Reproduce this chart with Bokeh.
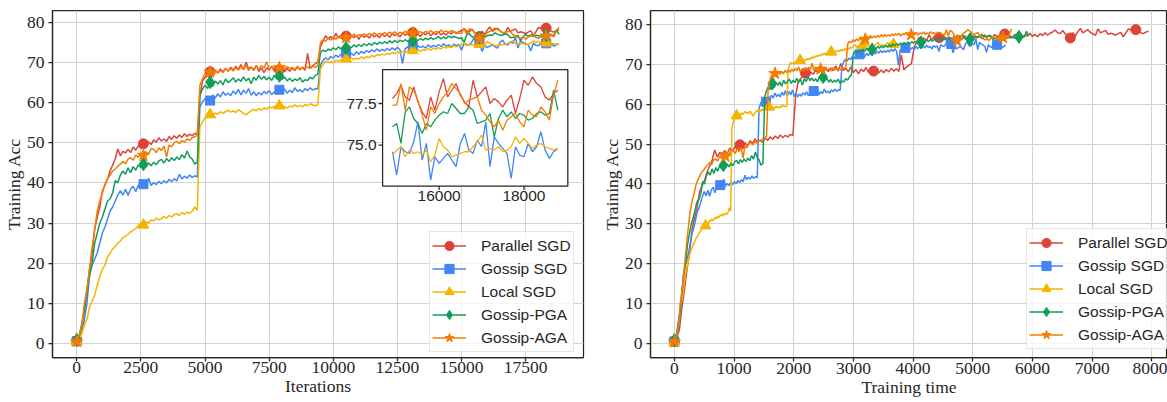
from bokeh.plotting import figure
from bokeh.layouts import row
from bokeh.models import Range1d, FixedTicker, Legend, LegendItem
from bokeh.core.properties import value
from bokeh.embed import file_html
from bokeh.resources import INLINE
import math

# ---------------- data ----------------
ITERATIONS = list(range(0, 18801, 100))

PARALLEL_SGD = [
    0.5, 1.5, 3.5, 9.0, 13.5, 18.5, 22.5, 28.5, 31.5, 34.0,
    38.0, 39.5, 41.0, 43.0, 44.5, 46.0, 48.5, 46.8, 47.9, 47.5,
    48.4, 47.6, 49.0, 48.2, 49.3, 48.7, 49.8, 49.2, 50.3, 49.6,
    50.8, 50.2, 51.3, 50.5, 51.0, 50.4, 51.6, 50.9, 51.8, 51.2,
    52.0, 51.4, 52.3, 51.6, 52.2, 51.8, 52.4, 52.2, 61.5, 65.5,
    66.4, 67.0, 67.8, 67.2, 68.1, 67.5, 68.5, 67.8, 68.6, 68.0,
    68.9, 68.2, 69.1, 68.4, 69.6, 68.3, 70.2, 68.5, 69.0, 68.1,
    69.4, 67.9, 68.7, 67.6, 68.8, 68.2, 69.2, 68.0, 69.0, 68.3,
    68.9, 67.8, 68.6, 67.9, 68.7, 68.1, 69.0, 68.3, 68.9, 68.2,
    72.4, 68.6, 69.3, 69.8, 70.2, 74.0, 75.5, 76.8, 76.0, 76.6,
    75.9, 77.4, 76.2, 76.9, 75.8, 76.7, 76.1, 77.0, 76.3, 76.8,
    75.9, 77.1, 76.4, 76.9, 76.2, 77.2, 76.5, 77.0, 76.3, 77.3,
    76.6, 77.1, 76.4, 77.4, 76.8, 77.2, 76.5, 77.5, 76.9, 77.3,
    76.7, 77.6, 76.9, 77.2, 76.6, 77.5, 77.0, 77.7, 76.8, 77.4,
    77.1, 77.8, 77.0, 77.5, 76.9, 77.7, 77.2, 77.9, 77.3, 77.8,
    78.1, 78.6, 77.9, 77.7, 78.5, 77.6, 77.0, 76.6, 77.9, 77.1,
    78.2, 79.0, 77.9, 78.3, 78.7, 78.0, 77.6, 77.3, 78.9, 77.9,
    78.2, 78.5, 77.5, 77.8, 77.6, 77.3, 77.7, 78.0, 76.9, 77.8,
    78.9, 78.6, 79.1, 78.7, 78.5, 77.9, 77.7, 78.1, 78.3,
]

GOSSIP_SGD = [
    0.5, 1.0, 3.0, 6.0, 10.0, 17.0, 19.5, 21.0, 22.5, 25.0,
    27.5, 29.0, 31.0, 33.0, 34.0, 35.5, 37.0, 38.1, 37.0, 38.4,
    36.9, 38.5, 39.2, 37.8, 39.5, 38.9, 39.7, 39.0, 41.2, 39.4,
    40.1, 39.6, 40.4, 39.8, 40.6, 40.0, 40.9, 40.3, 41.1, 40.5,
    42.2, 41.0, 41.7, 41.2, 42.0, 41.4, 41.8, 41.5, 59.0, 60.3,
    61.0, 61.5, 60.6, 62.0, 61.2, 62.3, 61.5, 62.8, 61.9, 62.5,
    61.8, 63.0, 62.2, 63.4, 62.0, 63.2, 62.4, 63.6, 61.9, 62.8,
    61.8, 62.6, 62.0, 62.9, 62.3, 63.1, 62.1, 62.7, 62.2, 63.3,
    62.5, 63.5, 62.4, 63.2, 62.6, 63.8, 62.9, 63.3, 62.7, 63.6,
    63.1, 63.8, 63.2, 63.6, 63.5, 69.5, 70.6, 71.3, 70.8, 71.6,
    71.2, 72.0, 71.4, 72.2, 71.6, 72.5, 71.8, 72.4, 71.9, 72.8,
    72.2, 72.9, 72.4, 73.1, 72.6, 73.3, 72.8, 73.5, 72.9, 73.4,
    73.0, 73.6, 73.1, 73.8, 73.2, 73.9, 73.3, 69.8, 73.5, 74.0,
    73.4, 74.1, 73.6, 74.3, 73.8, 74.2, 73.7, 74.5, 73.9, 74.4,
    74.0, 74.6, 74.1, 74.8, 74.2, 74.5, 73.9, 74.7, 74.3, 74.6,
    73.2, 74.9, 74.6, 74.5, 75.2, 76.4, 74.1, 75.1, 72.9, 74.3,
    73.9, 74.2, 74.5, 74.1, 73.7, 75.1, 75.7, 74.7, 74.5, 75.3,
    74.9, 76.4, 73.7, 75.5, 75.1, 74.8, 74.5, 73.0, 74.9, 74.4,
    74.3, 75.1, 74.6, 74.9, 75.8, 74.7, 74.2, 74.6, 74.8,
]

LOCAL_SGD = [
    0.3, 1.0, 2.5, 4.5, 6.0, 9.0, 10.5, 12.0, 14.5, 16.6,
    18.5, 19.5, 21.5, 22.5, 23.5, 24.1, 25.0, 25.5, 26.3, 26.7,
    27.2, 27.8, 28.2, 28.6, 29.4, 29.9, 29.5, 30.3, 30.0, 30.8,
    30.5, 31.2, 30.8, 31.1, 31.6, 31.2, 31.9, 31.5, 32.1, 32.3,
    31.9, 32.6, 32.2, 32.7, 32.4, 33.0, 34.0, 33.2, 54.0, 55.3,
    56.2, 56.6, 57.1, 56.8, 57.5, 57.2, 57.8, 57.4, 57.8, 58.2,
    57.7, 58.0, 57.6, 58.3, 57.9, 57.4, 57.0, 57.6, 58.1, 58.4,
    58.0, 58.6, 58.2, 58.8, 58.4, 59.0, 58.7, 59.2, 58.8, 59.3,
    58.9, 59.1, 58.7, 59.2, 59.0, 59.5, 59.1, 59.4, 59.0, 59.6,
    59.3, 59.8, 59.5, 59.3, 59.6, 68.5, 69.6, 70.5, 70.1, 70.4,
    70.0, 70.7, 70.3, 70.9, 70.5, 71.0, 70.6, 71.3, 70.8, 71.2,
    71.0, 71.5, 71.1, 71.6, 71.3, 71.9, 71.5, 72.1, 71.8, 72.2,
    72.0, 72.4, 72.1, 72.6, 72.3, 72.8, 72.4, 72.9, 72.6, 73.0,
    72.7, 73.1, 72.8, 73.3, 72.9, 73.4, 73.1, 73.6, 73.2, 73.7,
    73.4, 73.8, 73.5, 74.0, 73.7, 74.1, 73.8, 74.3, 74.0, 74.4,
    74.7, 74.9, 74.3, 74.7, 74.5, 74.6, 74.4, 74.7, 74.0, 74.4,
    75.4, 74.9, 74.7, 74.3, 74.4, 74.5, 74.6, 74.6, 74.9, 75.2,
    75.6, 74.7, 74.8, 74.7, 74.9, 74.6, 74.7, 74.9, 75.5, 75.1,
    75.4, 75.1, 74.8, 75.0, 75.1, 74.9, 74.8, 74.7, 74.8,
]

GOSSIP_PGA = [
    0.8, 2.0, 5.0, 8.0, 13.0, 17.0, 20.0, 24.9, 27.5, 30.0,
    31.5, 33.5, 35.5, 36.0, 37.5, 40.6, 40.0, 42.0, 43.0, 42.2,
    43.8, 42.6, 44.1, 43.2, 44.5, 43.9, 44.7, 44.0, 45.0, 44.3,
    45.2, 44.6, 45.5, 45.9, 45.0, 46.1, 45.4, 46.3, 45.6, 46.5,
    45.8, 47.1, 46.2, 48.0, 46.6, 46.0, 44.7, 45.2, 61.9, 63.5,
    64.4, 63.6, 65.2, 64.1, 65.5, 64.7, 65.6, 64.5, 66.0, 65.1,
    65.6, 66.3, 65.2, 66.0, 65.4, 66.5, 65.5, 66.2, 64.8, 66.4,
    65.7, 66.9, 65.9, 66.6, 65.8, 66.4, 65.6, 66.9, 66.0, 66.8,
    65.9, 66.5, 65.5, 66.2, 65.4, 66.0, 65.6, 66.3, 65.2, 65.8,
    65.6, 66.4, 66.0, 66.9, 67.2, 72.6, 73.2, 72.8, 73.5, 73.1,
    73.8, 73.3, 74.0, 73.5, 74.2, 73.7, 74.3, 73.8, 74.5, 74.0,
    74.6, 74.1, 74.8, 74.3, 74.9, 74.4, 75.1, 74.6, 75.2, 74.8,
    75.3, 74.9, 75.5, 75.0, 75.6, 75.1, 75.7, 75.3, 75.8, 75.4,
    75.9, 75.5, 76.0, 75.6, 76.1, 75.7, 76.2, 75.8, 76.3, 75.9,
    76.2, 76.6, 76.0, 76.5, 76.1, 76.7, 76.3, 76.6, 76.4, 76.1,
    76.3, 75.1, 77.0, 77.3, 76.6, 76.3, 75.7, 76.3, 76.1, 76.5,
    76.8, 77.0, 76.9, 77.5, 77.2, 76.9, 76.9, 77.3, 77.1, 76.3,
    76.4, 76.5, 76.9, 75.5, 76.6, 77.1, 76.7, 77.0, 76.6, 76.9,
    76.8, 76.5, 76.6, 76.9, 77.0, 76.8, 76.9, 78.3, 77.1,
]

GOSSIP_AGA = [
    0.4, 1.8, 4.5, 10.0, 13.5, 18.5, 24.0, 28.5, 33.0, 35.5,
    37.5, 39.7, 41.0, 42.0, 43.0, 43.5, 44.2, 44.7, 45.4, 44.8,
    46.0, 46.3, 45.7, 47.0, 46.4, 47.5, 46.9, 47.8, 47.2, 48.6,
    48.4, 47.6, 48.8, 48.1, 49.2, 46.5, 49.5, 49.0, 50.1, 50.4,
    49.8, 50.6, 50.2, 51.0, 50.6, 51.3, 51.6, 51.9, 64.4, 66.0,
    67.3, 66.8, 67.7, 67.2, 68.0, 67.5, 68.2, 67.6, 68.5, 67.9,
    68.6, 68.0, 68.8, 68.2, 69.0, 68.4, 69.3, 68.1, 68.9, 68.4,
    69.1, 68.5, 69.3, 68.7, 70.3, 68.4, 69.0, 68.5, 69.4, 68.8,
    69.0, 68.4, 69.1, 68.6, 68.9, 68.3, 69.2, 68.5, 68.9, 68.7,
    69.0, 68.6, 69.2, 68.9, 69.4, 75.1, 75.8, 75.4, 76.2, 75.7,
    76.4, 75.9, 76.6, 76.1, 76.8, 76.3, 77.0, 76.5, 77.2, 76.6,
    77.1, 76.7, 77.3, 76.8, 77.4, 76.9, 77.5, 77.0, 77.4, 77.1,
    77.6, 77.2, 77.7, 77.3, 77.8, 77.1, 77.7, 77.4, 77.9, 77.3,
    77.8, 77.4, 78.0, 77.5, 77.8, 77.3, 77.9, 77.6, 78.1, 77.5,
    77.9, 77.6, 78.2, 77.7, 78.0, 77.5, 78.1, 77.8, 77.6, 77.4,
    77.4, 78.7, 77.1, 78.5, 78.3, 77.7, 76.8, 75.9, 77.3, 76.9,
    77.5, 77.9, 78.2, 78.7, 78.4, 78.1, 77.5, 77.7, 77.8, 77.9,
    77.1, 76.8, 76.4, 76.1, 76.5, 75.9, 76.5, 76.7, 76.9, 76.4,
    76.1, 77.1, 76.8, 76.7, 77.3, 77.0, 76.5, 78.0, 78.9,
]

METHODS = ["Parallel SGD", "Gossip SGD", "Local SGD", "Gossip-PGA", "Gossip-AGA"]
SERIES = {
    "Parallel SGD": PARALLEL_SGD,
    "Gossip SGD": GOSSIP_SGD,
    "Local SGD": LOCAL_SGD,
    "Gossip-PGA": GOSSIP_PGA,
    "Gossip-AGA": GOSSIP_AGA,
}

# wall-clock time per iteration in each learning-rate phase (phases end at these iterations)
LR_DECAY_ITERS = [4700, 9400]
TIME_PER_ITER = {
    "Parallel SGD": [0.4225, 0.4225, 0.4225],
    "Gossip SGD": [0.2955, 0.2955, 0.2955],
    "Local SGD": [0.2006, 0.2006, 0.2006],
    "Gossip-PGA": [0.3155, 0.3155, 0.3155],
    "Gossip-AGA": [0.3285, 0.2830, 0.2955],
}

MARKER_ITERS = [0, 2600, 5200, 7900, 10500, 13100, 15700, 18300]

X1_TICKS = [0, 2500, 5000, 7500, 10000, 12500, 15000, 17500]
X2_TICKS = [0, 1000, 2000, 3000, 4000, 5000, 6000, 7000, 8000]
Y_TICKS = [0, 10, 20, 30, 40, 50, 60, 70, 80]
INSET_START = 14900
INSET_X_TICKS = [16000, 18000]
INSET_Y_TICKS = [75.0, 77.5]

# ---------------- style ----------------
COLORS = {
    "Parallel SGD": "#DB4437",
    "Gossip SGD": "#4285F4",
    "Local SGD": "#F4B400",
    "Gossip-PGA": "#0F9D58",
    "Gossip-AGA": "#F57C00",
}
MARKERS = {
    "Parallel SGD": ("circle", 10),
    "Gossip SGD": ("square", 9),
    "Local SGD": ("triangle", 11),
    "Gossip-PGA": ("diamond", 13),
    "Gossip-AGA": ("star", 13),
}
INK = "#262626"
SERIF = "Liberation Serif"
SANS = "Liberation Sans"


def train_time(iters, rates):
    out = []
    a, b = LR_DECAY_ITERS
    for it in iters:
        s1 = min(it, a)
        s2 = min(max(it - a, 0), b - a)
        s3 = max(it - b, 0)
        out.append(s1 * rates[0] + s2 * rates[1] + s3 * rates[2])
    return out


def make_fig(width, height, xr, yr, borders, xticks, xlabel, x_std):
    p = figure(width=width, height=height, x_range=Range1d(*xr), y_range=Range1d(*yr),
               output_backend="svg", toolbar_location=None,
               min_border_left=borders[0], min_border_right=borders[1],
               min_border_top=borders[2], min_border_bottom=borders[3])
    p.background_fill_color = "white"
    p.border_fill_color = "white"
    p.outline_line_color = INK
    p.outline_line_width = 1.25
    p.xaxis.ticker = FixedTicker(ticks=xticks)
    p.yaxis.ticker = FixedTicker(ticks=Y_TICKS)
    for ax in (p.xaxis[0], p.yaxis[0]):
        ax.axis_line_color = INK
        ax.axis_line_width = 1.25
        ax.major_tick_line_color = INK
        ax.major_tick_line_width = 1.25
        ax.major_tick_out = 4
        ax.major_tick_in = 0
        ax.minor_tick_line_color = None
        ax.major_label_text_font = SERIF
        ax.major_label_text_font_size = "17.5px"
        ax.major_label_text_color = INK
        ax.axis_label_text_font = SERIF
        ax.axis_label_text_font_size = "17.5px"
        ax.axis_label_text_font_style = "normal"
        ax.axis_label_text_color = INK
    p.xaxis.axis_label = xlabel
    p.yaxis.axis_label = "Training Acc"
    p.xaxis.major_label_standoff = x_std
    p.xaxis.axis_label_standoff = 0
    p.yaxis.major_label_standoff = 4
    p.yaxis.axis_label_standoff = 0
    p.grid.grid_line_color = "#d2d2d2"
    p.grid.grid_line_width = 1
    return p


def draw_series(p, xs_of, loc):
    items = []
    for m in METHODS:
        ys = SERIES[m]
        xs = xs_of(m)
        lr = p.line(xs, ys, line_color=COLORS[m], line_width=1.5)
        idx = [ITERATIONS.index(it) for it in MARKER_ITERS]
        mk, sz = MARKERS[m]
        sr = p.scatter([xs[i] for i in idx], [ys[i] for i in idx], marker=mk, size=sz,
                       fill_color=COLORS[m], line_color=COLORS[m])
        items.append(LegendItem(label=m, renderers=[lr, sr]))
    legend = Legend(items=items, location=loc, margin=0, padding=2, spacing=0,
                    glyph_width=34, glyph_height=23, label_height=23, label_standoff=15,
                    label_text_font=SANS, label_text_font_size="15.5px", label_text_color=INK,
                    border_line_color="#cccccc", border_line_width=1,
                    background_fill_color="white", background_fill_alpha=0.8)
    p.add_layout(legend)


# ---------------- left: iterations ----------------
p1 = make_fig(598, 402, (-945, 19755), (-3.6, 83.1), (51, 15, 10, 44),
              X1_TICKS, "Iterations", 0)
draw_series(p1, lambda m: ITERATIONS, (377, 5))

# inset (zoom on the last iterations)
INSET_X = (14667, 19035)
INSET_Y = (72.54, 79.54)
sub = p1.subplot(x_source=Range1d(*INSET_X), y_source=Range1d(*INSET_Y),
                 x_target=Range1d(11923, 19144), y_target=Range1d(39.25, 68.33))
sub.quad(left=[INSET_X[0]], right=[INSET_X[1]], bottom=[INSET_Y[0]], top=[INSET_Y[1]],
         fill_color="white", line_color=INK, line_width=1.25)
for m in METHODS:
    xs = [it for it in ITERATIONS if it >= INSET_START]
    ys = [SERIES[m][ITERATIONS.index(it)] for it in xs]
    sub.line(xs, ys, line_color=COLORS[m], line_width=1.3)
sub.ray(x=INSET_X_TICKS, y=[INSET_Y[0]] * len(INSET_X_TICKS), length=4, length_units="screen",
        angle=-math.pi / 2, line_color=INK, line_width=1.2)
sub.ray(x=[INSET_X[0]] * len(INSET_Y_TICKS), y=INSET_Y_TICKS, length=4, length_units="screen",
        angle=math.pi, line_color=INK, line_width=1.2)
sub.text(x=INSET_X_TICKS, y=[INSET_Y[0]] * len(INSET_X_TICKS), text=[str(t) for t in INSET_X_TICKS],
         y_offset=5, text_align="center", text_baseline="top",
         text_font=value(SANS), text_font_size="15.5px", text_color=INK)
sub.text(x=[INSET_X[0]] * len(INSET_Y_TICKS), y=INSET_Y_TICKS, text=[f"{t:.1f}" for t in INSET_Y_TICKS],
         x_offset=-6, text_align="right", text_baseline="middle",
         text_font=value(SANS), text_font_size="15.5px", text_color=INK)

# ---------------- right: training time ----------------
p2 = make_fig(569, 402, (-400, 8262), (-3.54, 83.5), (44, 0, 6, 45),
              X2_TICKS, "Training time", 1)
draw_series(p2, lambda m: train_time(ITERATIONS, TIME_PER_ITER[m]), (376, 8))

layout = row(p1, p2)
open("out.html", "w").write(file_html(layout, INLINE))
